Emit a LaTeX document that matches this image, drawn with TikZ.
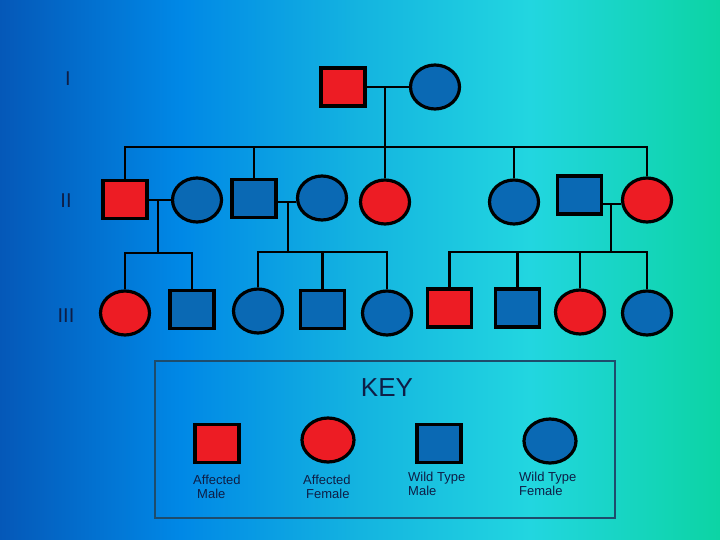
\documentclass[tikz,border=0pt]{standalone}
\usepackage{fontspec}
\setmainfont{Liberation Sans}
\usetikzlibrary{shapes.geometric,calc}
\definecolor{aff}{HTML}{ED1C24}
\definecolor{wt}{HTML}{0A69B4}
\definecolor{ink}{HTML}{0E1E46}
\definecolor{boxline}{HTML}{1E4C6C}
\definecolor{g0}{HTML}{0558B8}
\definecolor{g1}{HTML}{0088E6}
\definecolor{g2}{HTML}{14B4E0}
\definecolor{g3}{HTML}{22D6E0}
\definecolor{g4}{HTML}{0CD4A4}
\pgfdeclarehorizontalshading{bgshade}{100bp}{color(0bp)=(g0); color(25bp)=(g0); color(37.5bp)=(g1); color(50bp)=(g2); color(61.8bp)=(g3); color(75bp)=(g4); color(100bp)=(g4)}
\tikzset{
  male/.style={rectangle, draw=black, line width=3.2pt, minimum width=44pt, minimum height=38pt, inner sep=0pt},
  female/.style={ellipse, draw=black, line width=3.2pt, minimum width=49pt, minimum height=44pt, inner sep=0pt},
  link/.style={draw=black, line width=2.6pt},
  gen/.style={text=ink, font=\fontsize{20}{22}\selectfont},
  keylab/.style={text=ink, font=\fontsize{13}{14}\selectfont, align=left, anchor=north west, inner sep=0pt}
}
\begin{document}
\begin{tikzpicture}[x=1pt,y=-1pt]
\useasboundingbox (0,0) rectangle (720,540);
\shade[shading=bgshade] (0,0) rectangle (720,540);
% generation labels
\node[gen] (lI) at (68,79) {I};
\node[gen] (lII) at (66,201) {II};
\node[gen] (lIII) at (66,316) {III};
% generation I
\node[male,fill=aff] (I1) at (343,87) {};
\node[female,fill=wt] (I2) at (435,87) {};
\draw[link] (I1.east) -- (I2.west);
\coordinate (c1) at (385,87);
\coordinate (s1) at (385,147);
% generation II
\node[male,fill=aff] (II1) at (125,199.5) {};
\node[female,fill=wt] (II2) at (197,200) {};
\node[male,fill=wt] (II3) at (254,198.5) {};
\node[female,fill=wt] (II4) at (322,198) {};
\node[female,fill=aff] (II5) at (385,202) {};
\node[female,fill=wt] (II6) at (514,202) {};
\node[male,fill=wt] (II7) at (579.5,195) {};
\node[female,fill=aff] (II8) at (647,200) {};
\draw[link] (c1) -- (s1);
\draw[link] (II1.north) |- (II8.north |- s1) -- (II8.north);
\draw[link] (II3.north) -- (II3.north |- s1);
\draw[link] (II5.north) -- (II5.north |- s1);
\draw[link] (II6.north) -- (II6.north |- s1);
% couples in generation II
\draw[link] (II1.east |- 0,200) -- (II2.west |- 0,200);
\draw[link] (II3.east |- 0,202) -- (II4.west |- 0,202);
\draw[link] (II7.east |- 0,204) -- (II8.west |- 0,204);
\coordinate (m1) at (158,200);
\coordinate (m2) at (288,202);
\coordinate (m3) at (611,204);
\coordinate (g1) at (158,253);
\coordinate (g2) at (288,252);
\coordinate (g3) at (611,252);
% generation III
\node[female,fill=aff] (III1) at (125,313) {};
\node[male,fill=wt] (III2) at (192,309.5) {};
\node[female,fill=wt] (III3) at (258,311) {};
\node[male,fill=wt] (III4) at (322.5,309.5) {};
\node[female,fill=wt] (III5) at (387,313) {};
\node[male,fill=aff] (III6) at (449.5,308) {};
\node[male,fill=wt] (III7) at (517.5,308) {};
\node[female,fill=aff] (III8) at (580,312) {};
\node[female,fill=wt] (III9) at (647,313) {};
\draw[link] (m1) -- (g1);
\draw[link] (m2) -- (g2);
\draw[link] (m3) -- (g3);
\draw[link] (III1.north) |- (III2.north |- g1) -- (III2.north);
\draw[link] (III3.north) |- (III5.north |- g2) -- (III5.north);
\draw[link] (III4.north) -- (III4.north |- g2);
\draw[link] (III6.north) |- (III9.north |- g3) -- (III9.north);
\draw[link] (III7.north) -- (III7.north |- g3);
\draw[link] (III8.north) -- (III8.north |- g3);
% key
\node[draw=boxline, line width=1.5pt, minimum width=460pt, minimum height=157pt, inner sep=0pt] (key) at (385,439.5) {};
\node[text=ink, font=\fontsize{26}{28}\selectfont] (keyt) at (387,388) {KEY};
\node[male,fill=aff] (k1) at (217,443.5) {};
\node[female,fill=aff,minimum width=52pt] (k2) at (328,440) {};
\node[male,fill=wt] (k3) at (439,443.5) {};
\node[female,fill=wt,minimum width=52pt] (k4) at (550,441) {};
\node[keylab] (k1t) at (193,475) {Affected\\\hspace*{4pt}Male};
\node[keylab] (k2t) at (303,475) {Affected\\\hspace*{3pt}Female};
\node[keylab] (k3t) at (408,472) {Wild Type\\Male};
\node[keylab] (k4t) at (519,472) {Wild Type\\Female};
\end{tikzpicture}
\end{document}
